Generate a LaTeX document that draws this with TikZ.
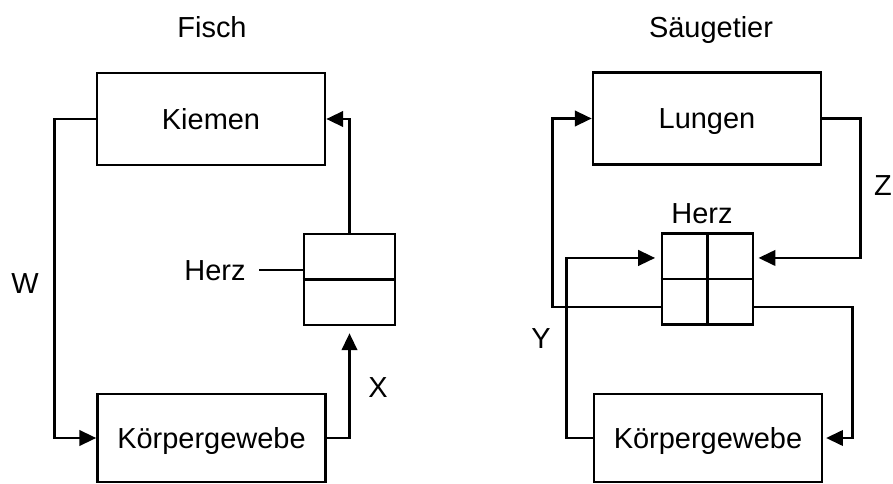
\documentclass[tikz,border=0pt]{standalone}
\usepackage{fontspec}
\setmainfont{Liberation Sans}
\usetikzlibrary{arrows.meta, calc}

\tikzset{
  organ/.style={draw, line width=1.8pt, minimum width=5.7cm, minimum height=2.3cm,
    inner sep=0pt, text height=14.7pt, text depth=0pt},
  heart/.style={draw, line width=1.8pt, minimum width=2.275cm, minimum height=2.275cm, inner sep=0pt},
  wall/.style={line width=1.8pt},
  flow/.style={->, line width=1.8pt},
  tag/.style={inner sep=0pt, text height=14.7pt, text depth=0pt},
}

\begin{document}
\begin{tikzpicture}[x=0.025cm, y=-0.025cm, >={Triangle[length=12pt, width=11pt]},
    font=\fontsize{20.6}{24}\selectfont]
    \useasboundingbox (0,0) rectangle (893,484);

    % Fisch: einfacher Kreislauf
    \node[tag] (fisch) at (212,27) {Fisch};
    \node[organ] (kiemen) at (211,119) {Kiemen};
    \node[organ, minimum height=2.2cm] (koerperF) at (211.5,438) {Körpergewebe};
    \node[heart] (herzF) at (349.5,279.5) {};
    \draw[wall] (herzF.west) -- (herzF.east);
    \node[tag] (herzFtag) at (215,270) {Herz};
    \draw[wall] ([xshift=0.33cm]herzFtag.east) -- (herzFtag.east -| herzF.west);

    \draw[flow] (kiemen.west) -- ++(-41,0) |- (koerperF.west);
    \draw[flow] (herzF.north) |- (kiemen.east);
    \draw[flow, shorten >=5pt] (koerperF.east) -| (herzF.south);
    \node[tag] (w) at (25,283) {W};
    \node[tag] (x) at (378,387) {X};

    % Saeugetier: doppelter Kreislauf
    \node[tag] (saeuger) at (711,27) {Säugetier};
    \node[organ] (lungen) at (707,118.5) {Lungen};
    \node[organ, minimum height=2.2cm] (koerperS) at (708,438) {Körpergewebe};
    \node[heart] (herzS) at (707.5,279) {};
    \draw[wall] (herzS.west) -- (herzS.east);
    \draw[wall] (herzS.north) -- (herzS.south);
    \node[tag] (herzStag) at (702,213) {Herz};

    \draw[flow, shorten >=3pt] (lungen.east) -- ++(38,0)
        |- ($(herzS.north east)!0.55!(herzS.east)$);
    \draw[flow] ($(herzS.south west)!0.4!(herzS.west)$) -- ++(-108,0) |- (lungen.west);
    \draw[flow, shorten >=4pt] (koerperS.west) -- ++(-26,0)
        |- ($(herzS.north west)!0.55!(herzS.west)$);
    \draw[flow, shorten >=2pt] ($(herzS.south east)!0.4!(herzS.east)$) -- ++(98,0)
        |- (koerperS.east);
    \node[tag] (y) at (541,338) {Y};
    \node[tag] (z) at (883,185) {Z};
\end{tikzpicture}
\end{document}
